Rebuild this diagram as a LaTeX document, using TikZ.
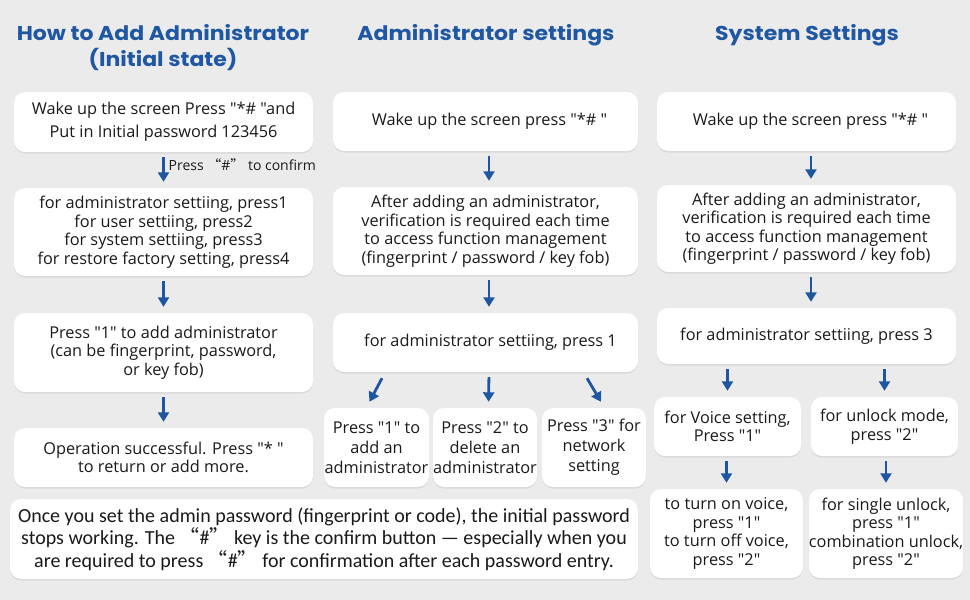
\documentclass[tikz,border=0pt]{standalone}
\usepackage{fontspec}
\newfontfamily\bodyfont{Open Sans}
\newfontfamily\titlefont{Poppins}[FakeStretch=1.1]
\newfontfamily\notefont{Carlito}
\newfontfamily\cjk{Noto Sans CJK SC}
\usetikzlibrary{arrows.meta,shadows}
\definecolor{bgc}{RGB}{235,235,235}
\definecolor{ttl}{RGB}{31,87,163}
\definecolor{arc}{RGB}{30,86,160}
\definecolor{txt}{RGB}{26,26,26}
\tikzset{
  box/.style={fill=white, rounded corners=11pt, inner sep=0pt, align=center, text=txt,
    font=\bodyfont\fontsize{16.3}{18.5}\selectfont,
    drop shadow={shadow xshift=0pt, shadow yshift=-1.5pt, opacity=0.08, fill=black}},
  ttlnode/.style={text=ttl, align=center, font=\titlefont\bfseries\fontsize{20}{26}\selectfont},
  arr/.style={draw=arc, line width=2.8pt, -{Triangle[width=11pt,length=9.5pt]}, shorten <=5pt, shorten >=6pt},
}
\begin{document}
\begin{tikzpicture}[x=1pt,y=-1pt]
\fill[bgc] (0,0) rectangle (970,600);
\useasboundingbox (0,0) rectangle (970,600);

% titles
\node[ttlnode] (t1) at (163,48) {How to Add Administrator\\(Initial state)};
\node[ttlnode] (t2) at (486,35) {Administrator settings};
\node[ttlnode] (t3) at (807,35) {System Settings};

% column 1
\node[box, minimum width=299, minimum height=60, font=\bodyfont\fontsize{16.3}{22.5}\selectfont] (b1) at (163.5,122) {Wake up the screen Press "*\# "and\\Put in Initial password 123456};
\node[box, minimum width=299, minimum height=88] (b2) at (163.5,232) {for administrator settiing, press1\\for user settiing, press2\\for system settiing, press3\\for restore factory setting, press4};
\node[box, minimum width=299, minimum height=79] (b3) at (163.5,352.5) {Press "1" to add administrator\\(can be fingerprint, password,\\or key fob)};
\node[box, minimum width=299, minimum height=59] (b4) at (163.5,457.5) {Operation successful. Press "* "\\to return or add more.};
\draw[arr] (b1.south) -- (b2.north);
\node[anchor=west, inner sep=0pt, text=txt, font=\bodyfont\fontsize{14}{16}\selectfont] (lb) at (168.5,165) {Press {\cjk“}\#{\cjk”} to confirm};
\draw[arr] (b2.south) -- (b3.north);
\draw[arr] (b3.south) -- (b4.north);

% column 2
\node[box, minimum width=305, minimum height=59] (a1) at (485.5,121.5) {\hspace*{8pt}Wake up the screen press "*\# "};
\node[box, minimum width=305, minimum height=88] (a2) at (485.5,231) {After adding an administrator,\\verification is required each time\\to access function management\\(fingerprint / password / key fob)};
\node[box, minimum width=305, minimum height=59] (a3) at (485.5,342.5) {\hspace*{10pt}for administrator settiing, press 1};
\node[box, minimum width=105, minimum height=79, font=\bodyfont\fontsize{16.3}{20}\selectfont] (s1) at (376.5,447.5) {Press "1" to\\add an\\administrator};
\node[box, minimum width=104, minimum height=79, font=\bodyfont\fontsize{16.3}{20}\selectfont] (s2) at (485,447.5) {Press "2" to\\delete an\\administrator};
\node[box, minimum width=104, minimum height=79, font=\bodyfont\fontsize{16.3}{20}\selectfont] (s3) at (594,447.5) {Press "3" for\\network\\setting};
\draw[arr] ([xshift=3.5pt]a1.south) -- ([xshift=3.5pt]a2.north);
\draw[arr] ([xshift=3.5pt]a2.south) -- ([xshift=3.5pt]a3.north);
\draw[arr] ([xshift=3.5pt]a3.south) -- ([xshift=3.5pt]s2.north);
\draw[arr, shorten <=0pt, shorten >=0pt] ([xshift=-103.5pt,yshift=-6pt]a3.south) -- ([xshift=-7pt,yshift=6pt]s1.north);
\draw[arr, shorten <=0pt, shorten >=0pt] ([xshift=101.5pt,yshift=-6pt]a3.south) -- ([xshift=7pt,yshift=6pt]s3.north);

% column 3
\node[box, minimum width=299, minimum height=59] (c1) at (806.5,121.5) {\hspace*{8pt}Wake up the screen press "*\# "};
\node[box, minimum width=299, minimum height=87] (c2) at (806.5,228.5) {After adding an administrator,\\verification is required each time\\to access function management\\(fingerprint / password / key fob)};
\node[box, minimum width=299, minimum height=56] (c3) at (806.5,336) {for administrator settiing, press 3};
\node[box, minimum width=147, minimum height=59] (v1) at (727.5,426.5) {for Voice setting,\\Press "1"};
\node[box, minimum width=147, minimum height=59] (v2) at (884.5,426.5) {for unlock mode,\\press "2"};
\node[box, minimum width=153, minimum height=89] (w1) at (726.5,533.5) {to turn on voice,\\press "1"\\to turn off voice,\\press "2"};
\node[box, minimum width=154, minimum height=89] (w2) at (886,533.5) {for single unlock,\\press "1"\\combination unlock,\\press "2"};
\draw[arr] ([xshift=4.5pt]c1.south) -- ([xshift=4.5pt]c2.north);
\draw[arr] ([xshift=4.5pt]c2.south) -- ([xshift=4.5pt]c3.north);
\draw[arr] (v1.north |- c3.south) -- (v1.north);
\draw[arr] (v2.north |- c3.south) -- (v2.north);
\draw[arr] (w1.north |- v1.south) -- (w1.north);
\draw[arr] (w2.north |- v2.south) -- (w2.north);

% note
\node[box, minimum width=628, minimum height=80, font=\notefont\fontsize{20}{22.5}\selectfont] (nt) at (324,539) {Once you set the admin password (fingerprint or code), the initial password\\stops working. The {\cjk“}\#{\cjk”} key is the confirm button — especially when you\\are required to press {\cjk“}\#{\cjk”} for confirmation after each password entry.};
\end{tikzpicture}
\end{document}
